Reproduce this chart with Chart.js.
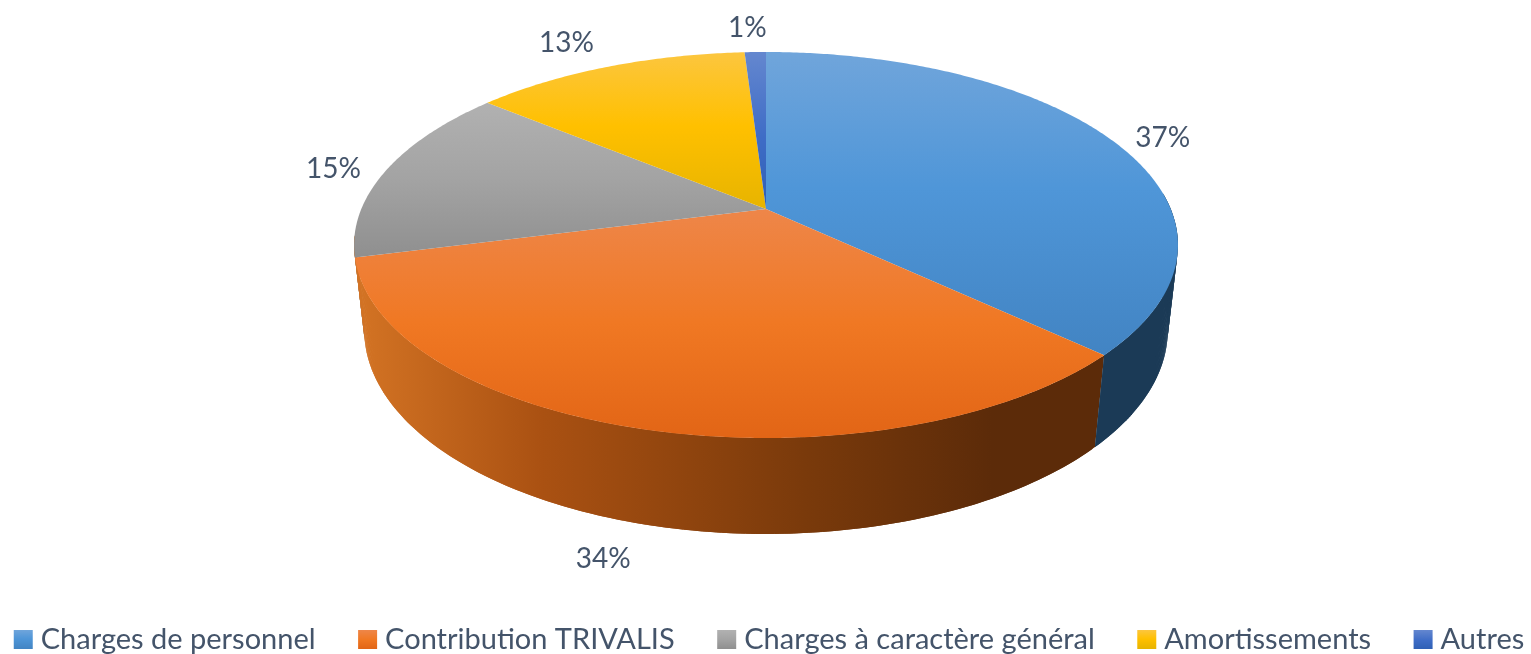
<!DOCTYPE html>
<html lang="fr">
<head>
<meta charset="utf-8">
<title>Répartition des charges</title>
<script src="https://cdn.jsdelivr.net/npm/chart.js@4"></script>
<style>
html,body{margin:0;padding:0;width:1531px;height:654px;overflow:hidden;background:#fff}
canvas{display:block;position:absolute;left:-81px;top:0}
</style>
</head>
<body>
<canvas id="c" width="1700" height="664"></canvas>
<script>
const categories = ['Charges de personnel','Contribution TRIVALIS','Charges à caractère général','Amortissements','Autres'];
const values = [37,34,15,13,1];

// Styles
const TEXT_COLOR = '#44546a';
const FONT = 'Lato';
const LEGEND_SIZE = 29;
const LEGEND_GAP = 42.5;
const LABEL_SIZE = 28;
const topStops = [
  [[0,'#70a5db'],[0.45,'#4f96d8'],[1,'#4284c3']],
  [[0,'#ee8649'],[0.5,'#f07823'],[1,'#e26516']],
  [[0,'#b1b1b1'],[0.5,'#a3a3a3'],[1,'#8f8f8f']],
  [[0,'#fcc63f'],[0.47,'#ffc000'],[1,'#e7b400']],
  [[0,'#6487cf'],[0.55,'#3e6cc6'],[1,'#2f60b5']]
];
const wallStops = [
  [[0,'#1b3a56'],[1,'#1b3a56']],
  [[0,'#d47424'],[0.25,'#aa5112'],[0.6,'#7a3a0b'],[0.85,'#5c2b09'],[1,'#5c2b09']],
  [[0,'#6b6b6b'],[1,'#6b6b6b']],
  [[0,'#8a6d00'],[1,'#8a6d00']],
  [[0,'#203864'],[1,'#203864']]
];
const labelNudge = [[51,-2],[-40,130],[-53,-1],[-42,-24],[-8,-24]];

// Camera: maps a point of the unit disc (u,v) at depth h onto the canvas
const CAM = {cx:847, cy:209, b:404.7, a:186.3, k:0.1865, m:0.0244, n:86};
function project(theta,h){
  const u=Math.sin(theta), v=Math.cos(theta), w=1+CAM.k*v+CAM.m*h;
  return {x:CAM.cx+CAM.b*u/w, y:CAM.cy+(-CAM.a*v+CAM.n*h)/w};
}
function linear(ctx,x0,y0,x1,y1,stops){
  const g=ctx.createLinearGradient(x0,y0,x1,y1);
  stops.forEach(s=>g.addColorStop(s[0],s[1]));
  return g;
}
function rimSteps(t0,t1){
  const n=Math.max(2,Math.ceil((t1-t0)/0.01)), out=[];
  for(let i=0;i<=n;i++) out.push(t0+(t1-t0)*i/n);
  return out;
}

class Arc3D extends Chart.ArcElement {
  static id='arc3d';
  draw(ctx){
    const t0=this.startAngle+Math.PI/2, t1=this.endAngle+Math.PI/2;
    const rim=rimSteps(t0,t1).map(t=>project(t,0));
    const apex={x:CAM.cx,y:CAM.cy};
    const ys=rim.map(p=>p.y).concat(apex.y);
    const minY=Math.min(...ys), maxY=Math.max(...ys);
    ctx.save();
    ctx.beginPath();
    ctx.moveTo(apex.x,apex.y);
    rim.forEach(p=>ctx.lineTo(p.x,p.y));
    ctx.closePath();
    ctx.fillStyle=linear(ctx,0,minY,0,maxY,topStops[this.$index]);
    ctx.fill();
    ctx.restore();
  }
}
class Pie3DController extends Chart.PieController {
  static id='pie3d';
  static overrides=Chart.PieController.overrides;
  static defaults={dataElementType:'arc3d'};
  draw(){
    const ctx=this.chart.ctx, els=this._cachedMeta.data;
    const lo=85*Math.PI/180, hi=262*Math.PI/180;
    for(let i=els.length-1;i>=0;i--){
      const el=els[i];
      el.$index=i;
      const start=el.startAngle+Math.PI/2, end=el.endAngle+Math.PI/2;
      const t0=Math.max(start,lo), t1=i===1?hi:Math.min(end,hi);
      if(t1<=t0) continue;
      const steps=rimSteps(t0,t1);
      const up=steps.map(t=>project(t,0)), down=steps.map(t=>project(t,1));
      const xs=up.concat(down).map(p=>p.x);
      const fill=linear(ctx,Math.min(...xs),0,Math.max(...xs),0,wallStops[i]);
      ctx.save();
      ctx.fillStyle=fill;
      for(let j=0;j+1<steps.length;j++){
        const e=Math.min(j+2,steps.length-1);
        ctx.beginPath();
        ctx.moveTo(up[j].x,up[j].y);
        ctx.lineTo(up[e].x,up[e].y);
        ctx.lineTo(down[e].x,down[e].y);
        ctx.lineTo(down[j].x,down[j].y);
        ctx.closePath();
        ctx.fill();
      }
      ctx.restore();
    }
    super.draw();
  }
}
Chart.register(Arc3D,Pie3DController);

const overlay={
  id:'overlay',
  afterDraw(chart){
    const ctx=chart.ctx, meta=chart.getDatasetMeta(0), total=values.reduce((a,b)=>a+b,0);
    ctx.save();
    ctx.fillStyle=TEXT_COLOR;
    ctx.font=LABEL_SIZE+'px '+FONT;
    ctx.textAlign='center';
    ctx.textBaseline='middle';
    meta.data.forEach((el,i)=>{
      const mid=(el.startAngle+el.endAngle)/2+Math.PI/2, p=project(mid,0);
      ctx.fillText(Math.round(values[i]/total*100)+'%',p.x+labelNudge[i][0],p.y+labelNudge[i][1]);
    });
    chart.legend.legendHitBoxes.forEach((h,i)=>{
      const s=19, y=h.top+(h.height-s)/2;
      ctx.fillStyle=linear(ctx,0,y,0,y+s,topStops[i]);
      ctx.fillRect(h.left,y,s,s);
    });
    ctx.restore();
  }
};

new Chart(document.getElementById('c'),{
  type:'pie3d',
  data:{labels:categories,datasets:[{data:values,borderWidth:0}]},
  plugins:[overlay],
  options:{
    responsive:false,
    animation:false,
    plugins:{
      tooltip:{enabled:false},
      legend:{
        position:'bottom',
        labels:{
          font:{family:FONT,size:LEGEND_SIZE},
          color:TEXT_COLOR,
          padding:LEGEND_GAP,
          boxHeight:19,
          boxWidth:27-LEGEND_SIZE/2,
          generateLabels:()=>categories.map((text,index)=>({text,index,fillStyle:'rgba(0,0,0,0)',strokeStyle:'rgba(0,0,0,0)',lineWidth:0,fontColor:TEXT_COLOR}))
        }
      }
    }
  }
});
</script>
</body>
</html>
